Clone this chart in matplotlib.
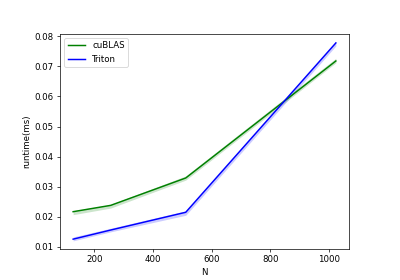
import numpy as np
import matplotlib
matplotlib.use("Agg")
import matplotlib.pyplot as plt

# matrix sizes
N = [128, 256, 512, 1024]

# mean runtime (ms) and spread band
cublas = [0.0217, 0.0238, 0.0329, 0.0718]
cublas_lo = [0.0207, 0.0229, 0.0322, 0.0712]
cublas_hi = [0.0220, 0.0241, 0.0336, 0.0727]

triton = [0.01257, 0.0156, 0.0215, 0.0778]
triton_lo = [0.0120, 0.0150, 0.0205, 0.0768]
triton_hi = [0.0133, 0.0162, 0.0220, 0.0782]


fig, ax = plt.subplots(figsize=(6.4, 4.48), dpi=62.5)
fig.subplots_adjust(left=0.15, right=0.8725, bottom=0.11, top=0.88)

ax.fill_between(N, cublas_lo, cublas_hi, color="green", alpha=0.2, linewidth=0)
ax.fill_between(N, triton_lo, triton_hi, color="blue", alpha=0.2, linewidth=0)
ax.plot(N, cublas, color="green", lw=1.7, label="cuBLAS")
ax.plot(N, triton, color="blue", lw=1.7, label="Triton")

ax.set_xlabel("N")
ax.set_ylabel("runtime(ms)")
ax.set_yticks([0.01, 0.02, 0.03, 0.04, 0.05, 0.06, 0.07, 0.08])
ax.set_xticks([200, 400, 600, 800, 1000])
ax.set_ylim(0.00923, 0.0809)
ax.legend(loc="upper left")

fig.savefig("out.png", dpi=62.5)
